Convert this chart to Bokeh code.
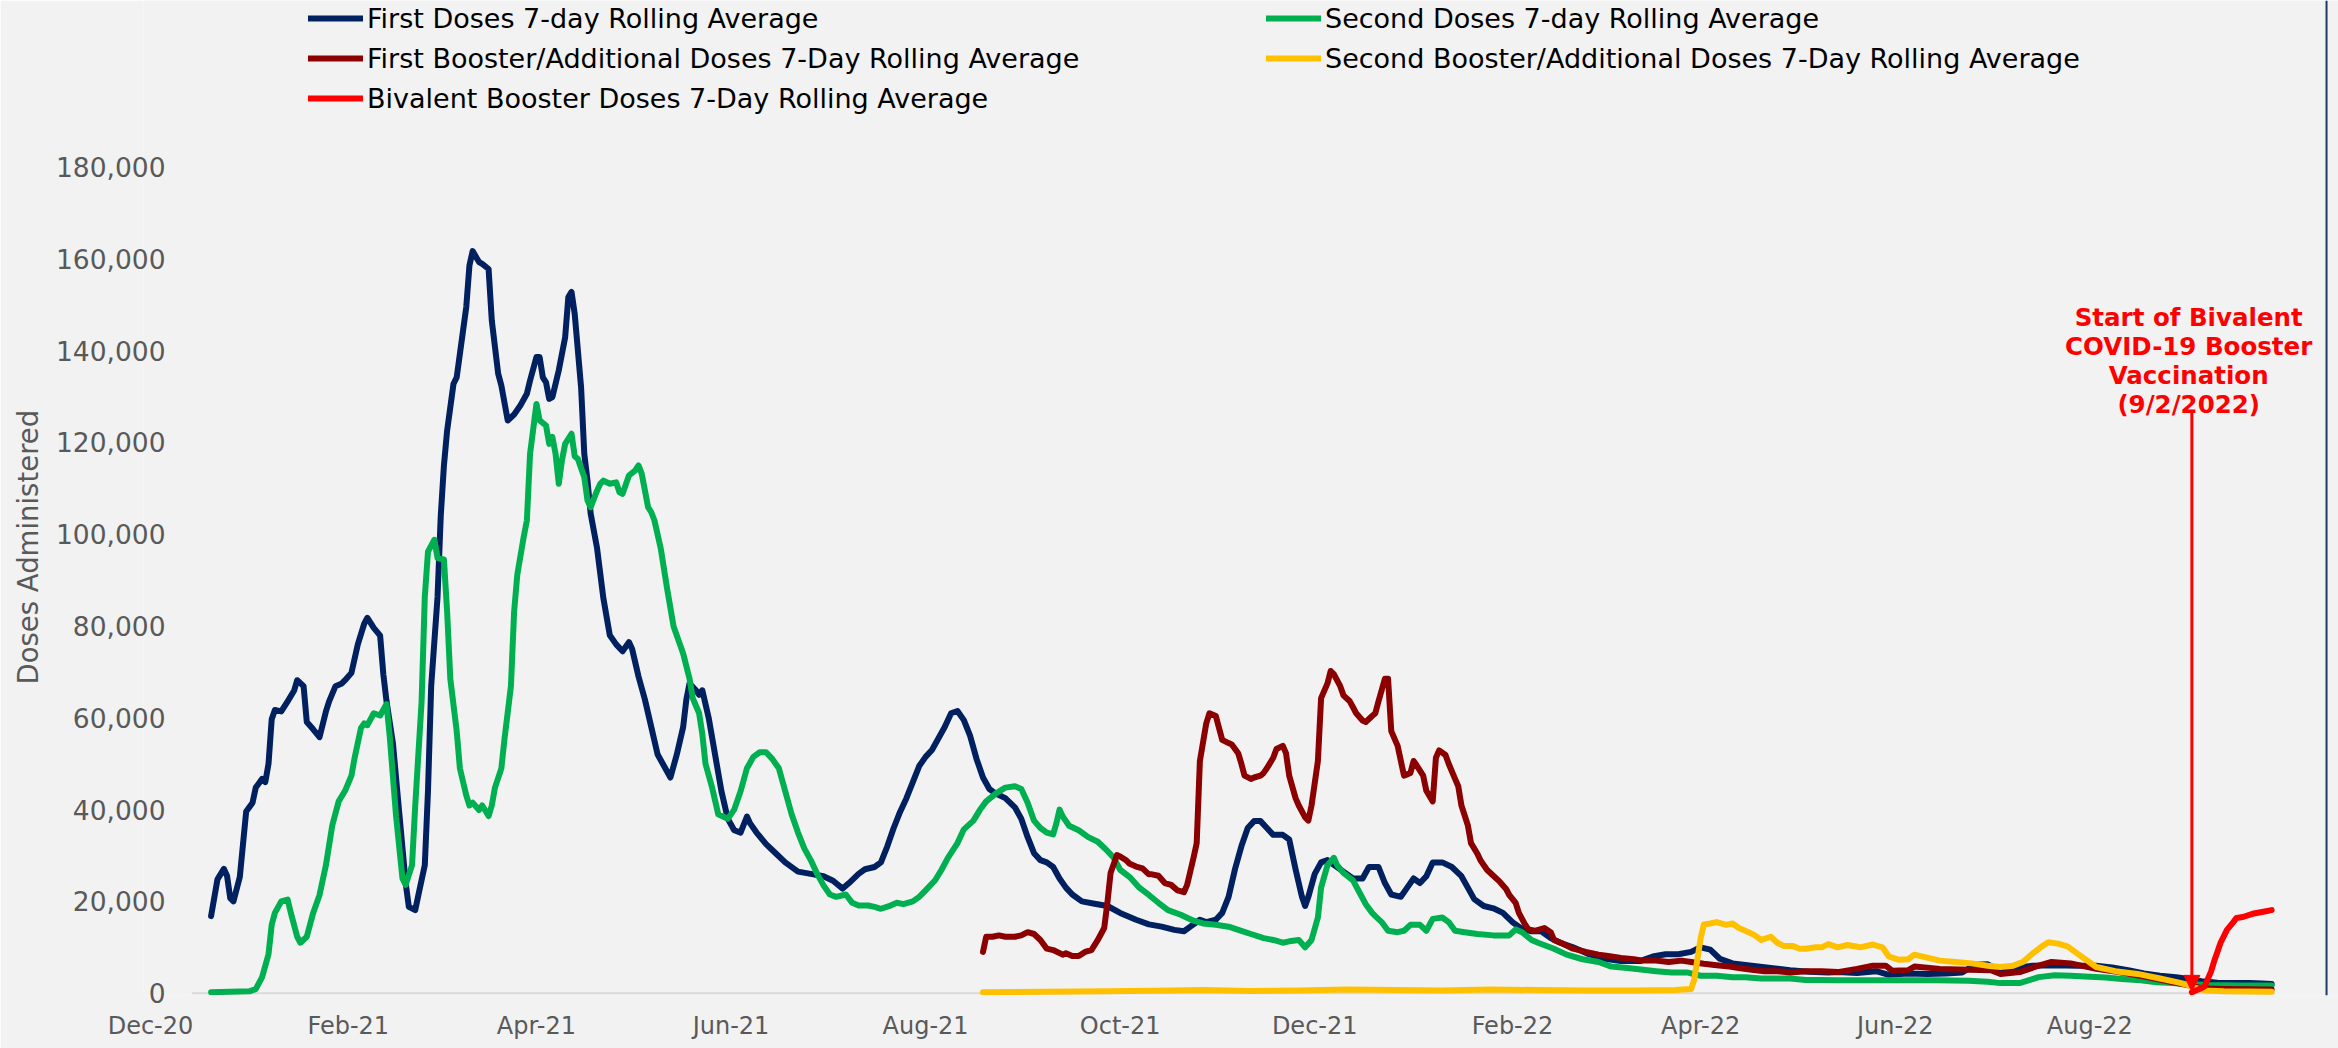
import pandas as pd
from bokeh.plotting import figure
from bokeh.models import (Legend, LegendItem, Label, Arrow, NormalHead, FixedTicker, Title, Span,
                          NumeralTickFormatter, DatetimeTickFormatter)
from bokeh.embed import file_html
from bokeh.resources import INLINE

# ---------------- data (7-day rolling averages) ----------------
first_dates = [
    "2020-12-20", "2020-12-22", "2020-12-24", "2020-12-25", "2020-12-26", "2020-12-27", "2020-12-29", "2020-12-31",
    "2021-01-02", "2021-01-03", "2021-01-05", "2021-01-06", "2021-01-07", "2021-01-08", "2021-01-09", "2021-01-11",
    "2021-01-13", "2021-01-15", "2021-01-16", "2021-01-18", "2021-01-19", "2021-01-21", "2021-01-23", "2021-01-25",
    "2021-01-26", "2021-01-28", "2021-01-30", "2021-01-31", "2021-02-02", "2021-02-04", "2021-02-06", "2021-02-07",
    "2021-02-09", "2021-02-11", "2021-02-12", "2021-02-13", "2021-02-15", "2021-02-17", "2021-02-19", "2021-02-20",
    "2021-02-22", "2021-02-23", "2021-02-25", "2021-02-26", "2021-02-27", "2021-03-01", "2021-03-02", "2021-03-03",
    "2021-03-04", "2021-03-06", "2021-03-07", "2021-03-09", "2021-03-10", "2021-03-11", "2021-03-12", "2021-03-14",
    "2021-03-15", "2021-03-17", "2021-03-18", "2021-03-20", "2021-03-21", "2021-03-23", "2021-03-25", "2021-03-27",
    "2021-03-29", "2021-03-30", "2021-04-01", "2021-04-02", "2021-04-03", "2021-04-04", "2021-04-05", "2021-04-06",
    "2021-04-07", "2021-04-08", "2021-04-10", "2021-04-11", "2021-04-12", "2021-04-13", "2021-04-15", "2021-04-16",
    "2021-04-17", "2021-04-18", "2021-04-20", "2021-04-22", "2021-04-24", "2021-04-26", "2021-04-28", "2021-04-30",
    "2021-05-01", "2021-05-03", "2021-05-05", "2021-05-07", "2021-05-09", "2021-05-11", "2021-05-13", "2021-05-15",
    "2021-05-17", "2021-05-18", "2021-05-19", "2021-05-21", "2021-05-22", "2021-05-23", "2021-05-25", "2021-05-27",
    "2021-05-29", "2021-05-31", "2021-06-02", "2021-06-04", "2021-06-06", "2021-06-07", "2021-06-09", "2021-06-12",
    "2021-06-15", "2021-06-18", "2021-06-22", "2021-06-26", "2021-06-30", "2021-07-03", "2021-07-06", "2021-07-08",
    "2021-07-11", "2021-07-13", "2021-07-16", "2021-07-18", "2021-07-20", "2021-07-22", "2021-07-24", "2021-07-26",
    "2021-07-28", "2021-07-30", "2021-08-01", "2021-08-03", "2021-08-05", "2021-08-07", "2021-08-09", "2021-08-11",
    "2021-08-13", "2021-08-15", "2021-08-17", "2021-08-19", "2021-08-21", "2021-08-23", "2021-08-26", "2021-08-29",
    "2021-08-31", "2021-09-02", "2021-09-04", "2021-09-06", "2021-09-08", "2021-09-10", "2021-09-12", "2021-09-14",
    "2021-09-16", "2021-09-19", "2021-09-23", "2021-09-27", "2021-10-01", "2021-10-06", "2021-10-10", "2021-10-14",
    "2021-10-18", "2021-10-21", "2021-10-23", "2021-10-26", "2021-10-28", "2021-10-31", "2021-11-02", "2021-11-04",
    "2021-11-06", "2021-11-08", "2021-11-10", "2021-11-12", "2021-11-14", "2021-11-16", "2021-11-18", "2021-11-21",
    "2021-11-23", "2021-11-25", "2021-11-27", "2021-11-28", "2021-11-29", "2021-12-01", "2021-12-03", "2021-12-05",
    "2021-12-07", "2021-12-10", "2021-12-13", "2021-12-16", "2021-12-18", "2021-12-21", "2021-12-23", "2021-12-25",
    "2021-12-28", "2021-12-30", "2022-01-01", "2022-01-03", "2022-01-05", "2022-01-07", "2022-01-10", "2022-01-13",
    "2022-01-16", "2022-01-18", "2022-01-20", "2022-01-23", "2022-01-26", "2022-01-29", "2022-02-01", "2022-02-04",
    "2022-02-07", "2022-02-10", "2022-02-13", "2022-02-16", "2022-02-20", "2022-02-25", "2022-03-02", "2022-03-07",
    "2022-03-13", "2022-03-17", "2022-03-21", "2022-03-25", "2022-03-29", "2022-04-01", "2022-04-04", "2022-04-07",
    "2022-04-11", "2022-04-17", "2022-04-23", "2022-04-29", "2022-05-05", "2022-05-11", "2022-05-14", "2022-05-20",
    "2022-05-26", "2022-05-30", "2022-06-05", "2022-06-11", "2022-06-17", "2022-06-22", "2022-06-26", "2022-06-30",
    "2022-07-04", "2022-07-09", "2022-07-14", "2022-07-21", "2022-07-28", "2022-08-03", "2022-08-08", "2022-08-13",
    "2022-08-18", "2022-08-23", "2022-08-28", "2022-09-01", "2022-09-05", "2022-09-10", "2022-09-15", "2022-09-20",
    "2022-09-24", "2022-09-27",
]
first_doses = [
    16800, 24800, 27100, 25600, 20700, 20000, 25300, 39600,
    41500, 44800, 46700, 46000, 50000, 59700, 61700, 61400,
    63600, 65900, 68200, 66900, 59100, 57500, 55800, 61400,
    63600, 66900, 67500, 68200, 69800, 76000, 80500, 81800,
    79600, 77900, 69500, 63600, 54500, 39200, 24000, 18800,
    18100, 21400, 27900, 44100, 66900, 86400, 104000, 115000,
    122600, 132800, 134200, 144400, 149500, 158600, 161700, 159300,
    158900, 157800, 146600, 135000, 132400, 124800, 126100, 128100,
    130600, 133500, 138600, 138600, 134200, 133100, 129500, 129900,
    132800, 135700, 142900, 151700, 152800, 148000, 132000, 117500,
    111700, 104500, 97000, 86000, 78000, 76000, 74500, 76500,
    75000, 69000, 64000, 58000, 52000, 49500, 47000, 52000,
    58000, 64000, 67500, 66000, 65000, 66000, 60000, 52000,
    44000, 38000, 35500, 35000, 38500, 37000, 35000, 32500,
    30500, 28500, 26500, 26000, 25500, 24500, 22800, 24000,
    26000, 27000, 27500, 28500, 32000, 36000, 39500, 42500,
    46000, 49500, 51500, 53000, 55500, 58000, 61000, 61500,
    59500, 56000, 51000, 47000, 44500, 43500, 42500, 40500,
    38000, 34000, 30500, 29000, 28500, 27500, 25000, 23000,
    21500, 20000, 19500, 19000, 17500, 16000, 15000, 14500,
    13800, 13500, 14500, 16000, 15500, 16000, 17500, 21000,
    27000, 32000, 36000, 37500, 37500, 36000, 34500, 34500,
    33500, 27000, 21000, 19000, 21000, 26000, 28500, 29000,
    28000, 26500, 25000, 25000, 27500, 27500, 24000, 21500,
    21000, 23000, 25000, 24000, 25500, 28500, 28500, 27500,
    25500, 23000, 20500, 19000, 18500, 17500, 15500, 14000,
    13500, 13500, 12000, 11000, 10000, 8500, 7500, 7000,
    7000, 8000, 8500, 8500, 9000, 10000, 9500, 7500,
    6500, 6000, 5500, 5000, 4700, 4500, 4600, 4400,
    4800, 4000, 4300, 4200, 4300, 4500, 6200, 6300,
    4800, 5500, 6000, 6100, 6000, 6000, 5600, 5000,
    4300, 3800, 3500, 3100, 2600, 2300, 2200, 2200,
    2100, 2000,
]

second_dates = [
    "2020-12-20", "2020-12-26", "2021-01-01", "2021-01-03", "2021-01-05", "2021-01-07", "2021-01-08", "2021-01-09",
    "2021-01-11", "2021-01-13", "2021-01-14", "2021-01-16", "2021-01-17", "2021-01-19", "2021-01-21", "2021-01-23",
    "2021-01-25", "2021-01-27", "2021-01-29", "2021-01-31", "2021-02-02", "2021-02-03", "2021-02-05", "2021-02-06",
    "2021-02-07", "2021-02-09", "2021-02-11", "2021-02-13", "2021-02-14", "2021-02-16", "2021-02-18", "2021-02-19",
    "2021-02-21", "2021-02-22", "2021-02-24", "2021-02-25", "2021-02-26", "2021-02-28", "2021-03-01", "2021-03-03",
    "2021-03-04", "2021-03-05", "2021-03-07", "2021-03-08", "2021-03-10", "2021-03-11", "2021-03-12", "2021-03-14",
    "2021-03-15", "2021-03-17", "2021-03-18", "2021-03-19", "2021-03-21", "2021-03-22", "2021-03-24", "2021-03-25",
    "2021-03-26", "2021-03-28", "2021-03-29", "2021-03-30", "2021-04-01", "2021-04-02", "2021-04-04", "2021-04-05",
    "2021-04-06", "2021-04-07", "2021-04-08", "2021-04-09", "2021-04-10", "2021-04-12", "2021-04-13", "2021-04-14",
    "2021-04-16", "2021-04-17", "2021-04-18", "2021-04-20", "2021-04-21", "2021-04-22", "2021-04-24", "2021-04-26",
    "2021-04-27", "2021-04-28", "2021-04-30", "2021-05-02", "2021-05-03", "2021-05-04", "2021-05-06", "2021-05-07",
    "2021-05-08", "2021-05-10", "2021-05-12", "2021-05-14", "2021-05-16", "2021-05-17", "2021-05-19", "2021-05-20",
    "2021-05-22", "2021-05-23", "2021-05-24", "2021-05-26", "2021-05-28", "2021-05-31", "2021-06-02", "2021-06-04",
    "2021-06-06", "2021-06-08", "2021-06-10", "2021-06-12", "2021-06-14", "2021-06-16", "2021-06-18", "2021-06-20",
    "2021-06-22", "2021-06-24", "2021-06-26", "2021-06-28", "2021-06-30", "2021-07-02", "2021-07-04",
    "2021-07-07", "2021-07-09", "2021-07-11", "2021-07-14", "2021-07-16",
    "2021-07-18", "2021-07-21", "2021-07-23", "2021-07-25", "2021-07-28", "2021-07-30", "2021-08-01", "2021-08-04",
    "2021-08-06", "2021-08-08", "2021-08-11", "2021-08-13", "2021-08-16", "2021-08-18", "2021-08-20", "2021-08-23",
    "2021-08-26", "2021-08-29", "2021-08-31", "2021-09-02", "2021-09-04", "2021-09-06", "2021-09-08", "2021-09-10",
    "2021-09-11", "2021-09-12", "2021-09-13", "2021-09-15", "2021-09-18", "2021-09-21", "2021-09-24", "2021-09-27",
    "2021-09-29", "2021-10-01", "2021-10-04", "2021-10-07", "2021-10-10", "2021-10-13", "2021-10-16", "2021-10-20",
    "2021-10-24", "2021-10-27", "2021-10-31", "2021-11-04", "2021-11-08", "2021-11-11", "2021-11-15", "2021-11-18",
    "2021-11-21", "2021-11-23", "2021-11-26", "2021-11-28", "2021-11-30", "2021-12-02", "2021-12-03", "2021-12-05",
    "2021-12-07", "2021-12-08", "2021-12-10", "2021-12-13", "2021-12-15", "2021-12-17", "2021-12-19", "2021-12-20",
    "2021-12-22", "2021-12-24", "2021-12-27", "2021-12-29", "2021-12-31", "2022-01-03", "2022-01-05", "2022-01-07",
    "2022-01-10", "2022-01-12", "2022-01-14", "2022-01-17", "2022-01-21", "2022-01-26", "2022-01-31", "2022-02-02",
    "2022-02-04", "2022-02-07", "2022-02-09", "2022-02-14", "2022-02-18", "2022-02-23", "2022-02-28", "2022-03-04",
    "2022-03-09", "2022-03-14", "2022-03-18", "2022-03-23", "2022-03-28", "2022-04-01", "2022-04-06", "2022-04-11",
    "2022-04-15", "2022-04-20", "2022-04-25", "2022-04-29", "2022-05-04", "2022-05-09", "2022-05-14", "2022-05-25",
    "2022-06-04", "2022-06-14", "2022-06-24", "2022-06-30", "2022-07-04", "2022-07-10", "2022-07-16", "2022-07-21",
    "2022-07-26", "2022-08-01", "2022-08-06", "2022-08-11", "2022-08-17", "2022-08-22", "2022-08-27", "2022-09-01",
    "2022-09-07", "2022-09-17", "2022-09-27",
]
second_doses = [
    200, 300, 400, 900, 3500, 8500, 14900, 17500,
    20000, 20400, 17500, 12300, 11000, 12300, 17500, 21400,
    27900, 36600, 41800, 44100, 47400, 51300, 57800, 58800,
    58400, 61000, 60500, 63000, 56000, 38500, 25000, 23600,
    27900, 40900, 63600, 86400, 96200, 98800, 94800, 94500,
    83100, 68500, 57100, 49000, 43100, 40900, 41500, 39900,
    40900, 38600, 40900, 44800, 49000, 55500, 66900, 83100,
    91200, 99400, 103000, 117500, 128400, 124800, 123700, 119700,
    121200, 117500, 111000, 116100, 119700, 121900, 117000, 116400,
    112400, 107400, 105900, 109500, 111000, 111700, 111000, 111300,
    109200, 108800, 112800, 113900, 115000, 113200, 105900, 104800,
    103000, 96800, 88000, 79900, 76000, 74000, 68500, 64300,
    61000, 56500, 50000, 45000, 39000, 38000, 40000, 44000,
    49000, 51500, 52500, 52500, 51000, 49000, 44000, 39000,
    35000, 31500, 29000, 26000, 23500, 21500, 21000,
    21500, 19700, 19100, 19100, 18800,
    18400, 19100, 19700, 19400, 20000, 21000, 22400, 24600,
    26900, 29500, 32700, 35700, 37600, 39900, 41800, 43500,
    44800, 45100, 44500, 41500, 37600, 36000, 35000, 34600,
    37000, 40000, 38500, 36500, 35500, 34000, 33000, 31000,
    29500, 26900, 25300, 23000, 21400, 19700, 18100, 17100,
    15800, 15200, 14900, 14500, 13600, 12900, 12000, 11600,
    11000, 11300, 11600, 10000, 11600, 16500, 23000, 27900,
    29500, 27900, 26200, 24600, 22000, 19400, 17500, 16800,
    15500, 13600, 13300, 13600, 14900, 14900, 13600, 16200,
    16500, 15500, 13600, 13300, 12900, 12600, 12600, 13900,
    13300, 11600, 11000, 9700, 8400, 7400, 6800, 5800,
    5500, 5100, 4800, 4500, 4500, 3800, 3800, 3500,
    3500, 3200, 3200, 3200, 2900, 2900, 2800, 2800,
    2800, 2800, 2700, 2500, 2200, 2200, 3500, 3900,
    3800, 3600, 3400, 3100, 2800, 2400, 2200, 2000,
    1800, 1700, 1700,
]

booster1_dates = [
    "2021-08-19", "2021-08-20", "2021-08-22", "2021-08-24", "2021-08-26", "2021-08-29", "2021-08-31", "2021-09-02",
    "2021-09-04", "2021-09-06", "2021-09-08", "2021-09-10", "2021-09-13", "2021-09-14", "2021-09-16", "2021-09-18",
    "2021-09-20", "2021-09-22", "2021-09-24", "2021-09-26", "2021-09-27", "2021-09-28", "2021-09-30", "2021-10-01",
    "2021-10-03", "2021-10-04", "2021-10-06", "2021-10-08", "2021-10-10", "2021-10-11", "2021-10-13", "2021-10-15",
    "2021-10-17", "2021-10-19", "2021-10-21", "2021-10-22", "2021-10-24", "2021-10-25", "2021-10-26", "2021-10-28",
    "2021-10-29", "2021-10-31", "2021-11-01", "2021-11-02", "2021-11-04", "2021-11-05", "2021-11-07", "2021-11-08",
    "2021-11-09", "2021-11-11", "2021-11-12", "2021-11-14", "2021-11-15", "2021-11-16", "2021-11-18", "2021-11-19",
    "2021-11-21", "2021-11-22", "2021-11-23", "2021-11-25", "2021-11-26", "2021-11-28", "2021-11-29", "2021-11-30",
    "2021-12-02", "2021-12-03", "2021-12-05", "2021-12-06", "2021-12-07", "2021-12-09", "2021-12-10", "2021-12-12",
    "2021-12-13", "2021-12-14", "2021-12-16", "2021-12-17", "2021-12-19", "2021-12-20", "2021-12-21", "2021-12-23",
    "2021-12-24", "2021-12-25", "2021-12-27", "2021-12-28", "2021-12-29", "2021-12-31", "2022-01-01", "2022-01-02",
    "2022-01-04", "2022-01-05", "2022-01-07", "2022-01-08", "2022-01-09", "2022-01-11", "2022-01-12", "2022-01-14",
    "2022-01-15", "2022-01-16", "2022-01-18", "2022-01-19", "2022-01-21", "2022-01-22", "2022-01-24", "2022-01-26",
    "2022-01-28", "2022-01-30", "2022-01-31", "2022-02-02", "2022-02-03", "2022-02-05", "2022-02-06", "2022-02-08",
    "2022-02-11", "2022-02-13", "2022-02-14", "2022-02-17", "2022-02-20", "2022-02-24", "2022-02-28", "2022-03-03",
    "2022-03-07", "2022-03-11", "2022-03-14", "2022-03-18", "2022-03-22", "2022-03-26", "2022-03-29", "2022-04-02",
    "2022-04-06", "2022-04-10", "2022-04-13", "2022-04-17", "2022-04-21", "2022-04-25", "2022-04-29", "2022-05-04",
    "2022-05-09", "2022-05-14", "2022-05-20", "2022-05-25", "2022-05-29", "2022-05-31", "2022-06-05", "2022-06-07",
    "2022-06-15", "2022-06-24", "2022-07-01", "2022-07-04", "2022-07-10", "2022-07-16", "2022-07-20", "2022-07-26",
    "2022-08-03", "2022-08-10", "2022-08-16", "2022-08-22", "2022-08-27", "2022-09-01", "2022-09-06", "2022-09-12",
    "2022-09-27",
]
booster1_doses = [
    9000, 12300, 12300, 12600, 12300, 12300, 12600, 13300,
    12900, 11600, 9700, 9400, 8400, 8700, 8100, 8100,
    9000, 9400, 11600, 14200, 19700, 26200, 30100, 29800,
    28900, 28200, 27600, 27200, 25900, 25900, 25600, 24000,
    23600, 22400, 22000, 23600, 29500, 32700, 50600, 58800,
    61000, 60400, 57800, 55200, 54500, 54200, 52300, 50000,
    47400, 46700, 47000, 47400, 48000, 49000, 51300, 53200,
    53900, 52300, 47400, 42500, 40900, 38300, 37600, 40900,
    50600, 64300, 67500, 70200, 69500, 66900, 64900, 63600,
    62300, 61000, 59400, 59100, 60400, 61000, 63600, 68500,
    68500, 57100, 53900, 50600, 47400, 48000, 50600, 49600,
    47400, 44100, 41800, 51300, 52900, 51900, 50000, 46700,
    45100, 40900, 36600, 32700, 30400, 28900, 26900, 25600,
    24300, 22700, 21400, 19700, 17500, 14900, 13900, 13600,
    14200, 13300, 11600, 10700, 9700, 9000, 8400, 8100,
    7700, 7400, 7100, 7100, 6800, 7100, 6800, 6400,
    6100, 5800, 5500, 5100, 4800, 4800, 4500, 4800,
    4800, 4600, 5300, 6000, 6000, 4900, 5000, 5800,
    5300, 5100, 5000, 4200, 4600, 6000, 6800, 6500,
    5300, 4600, 3900, 3100, 2400, 1700, 1000, 900,
    800,
]

booster2_dates = [
    "2021-08-19", "2021-09-07", "2021-09-27", "2021-10-17", "2021-10-27", "2021-11-11", "2021-11-26", "2021-12-11",
    "2021-12-26", "2022-01-10", "2022-01-25", "2022-02-09", "2022-02-24", "2022-03-11", "2022-03-24", "2022-03-29",
    "2022-03-30", "2022-04-01", "2022-04-02", "2022-04-04", "2022-04-06", "2022-04-09", "2022-04-11", "2022-04-13",
    "2022-04-16", "2022-04-18", "2022-04-20", "2022-04-23", "2022-04-25", "2022-04-27", "2022-04-30", "2022-05-02",
    "2022-05-04", "2022-05-07", "2022-05-09", "2022-05-11", "2022-05-14", "2022-05-17", "2022-05-21", "2022-05-25",
    "2022-05-28", "2022-05-30", "2022-06-02", "2022-06-05", "2022-06-07", "2022-06-10", "2022-06-15", "2022-06-20",
    "2022-06-25", "2022-06-30", "2022-07-04", "2022-07-08", "2022-07-11", "2022-07-14", "2022-07-17", "2022-07-19",
    "2022-07-22", "2022-07-25", "2022-07-29", "2022-08-03", "2022-08-09", "2022-08-16", "2022-08-23", "2022-08-29",
    "2022-09-01", "2022-09-03", "2022-09-06", "2022-09-12", "2022-09-27",
]
booster2_doses = [
    200, 300, 400, 600, 700, 500, 600, 800,
    700, 600, 800, 700, 600, 600, 700, 900,
    3000, 12000, 15000, 15200, 15500, 14900, 15200, 14200,
    13300, 12600, 11600, 12300, 11000, 10300, 10300, 9700,
    9700, 10000, 10000, 10700, 10000, 10500, 10000, 10600,
    10000, 8000, 7300, 7400, 8400, 7900, 7100, 6800,
    6500, 6000, 5700, 6000, 6800, 8600, 10200, 11100,
    10800, 10200, 8200, 5700, 4800, 4200, 3200, 2300,
    1700, 1200, 600, 400, 300,
]

bivalent_dates = [
    "2022-09-02", "2022-09-04", "2022-09-06", "2022-09-08", "2022-09-09", "2022-09-10", "2022-09-11", "2022-09-13",
    "2022-09-15", "2022-09-16", "2022-09-18", "2022-09-21", "2022-09-24", "2022-09-27",
]
bivalent_doses = [
    200, 800, 1500, 4700, 7000, 9000, 11000, 13800,
    15500, 16400, 16600, 17300, 17700, 18100,
]

series_names = [
    "First Doses 7-day Rolling Average",
    "Second Doses 7-day Rolling Average",
    "First Booster/Additional Doses 7-Day Rolling Average",
    "Second Booster/Additional Doses 7-Day Rolling Average",
    "Bivalent Booster Doses 7-Day Rolling Average",
]
series_colors = ["#002060", "#00B050", "#8B0000", "#FFC000", "#FF0000"]

x_tick_dates = ["2020-12-01", "2021-02-01", "2021-04-01", "2021-06-01", "2021-08-01", "2021-10-01",
                "2021-12-01", "2022-02-01", "2022-04-01", "2022-06-01", "2022-08-01"]
y_ticks = [0, 20000, 40000, 60000, 80000, 100000, 120000, 140000, 160000, 180000]

axis_start, axis_end = "2020-12-14", "2022-09-28"      # extent of the original plot area
chart_border = "2022-10-14 05:17"                       # right edge of the original chart frame
bivalent_start = "2022-09-02"
annotation_text = "Start of Bivalent\nCOVID-19 Booster\nVaccination\n(9/2/2022)"


def ms(s):
    return pd.Timestamp(s).value / 1e6


FONT = "DejaVu Sans"
GREY = "#595959"

p = figure(width=2338, height=1048, x_axis_type="datetime",
           x_range=(ms("2020-11-28 19:24"), ms("2022-10-17 23:17")),
           y_range=(-500, 216300),
           output_backend="svg", toolbar_location=None,
           background_fill_color="#f2f2f2", border_fill_color="#f2f2f2",
           outline_line_color=None,
           min_border_left=140, min_border_right=0, min_border_top=0, min_border_bottom=53)

p.xgrid.visible = False
p.ygrid.visible = False

# zero baseline of the plot area
p.line(x=[ms(axis_start), ms(axis_end)], y=[0, 0], line_color="#d9d9d9", line_width=2)

# series lines
all_series = [
    (first_dates, first_doses),
    (second_dates, second_doses),
    (booster1_dates, booster1_doses),
    (booster2_dates, booster2_doses),
    (bivalent_dates, bivalent_doses),
]
renderers = []
for (d, v), c in zip(all_series, series_colors):
    r = p.line(x=pd.to_datetime(d), y=v, line_color=c, line_width=6,
               line_cap="round", line_join="round")
    renderers.append(r)

# chart frame edge
p.add_layout(Span(location=ms(chart_border), dimension="height", line_color="#1F3864", line_width=2))

# x axis
xa = p.xaxis[0]
xa.ticker = FixedTicker(ticks=[ms(d) for d in x_tick_dates])
xa.formatter = DatetimeTickFormatter(days="%b-%y", months="%b-%y", years="%b-%y")
xa.axis_line_color = None
xa.major_tick_line_color = None
xa.minor_tick_line_color = None
xa.major_tick_out = 0
xa.major_label_text_font = FONT
xa.major_label_text_font_size = "24px"
xa.major_label_text_color = GREY
xa.major_label_standoff = 16

# y axis
ya = p.yaxis[0]
ya.ticker = FixedTicker(ticks=y_ticks)
ya.formatter = NumeralTickFormatter(format="0,0")
ya.axis_line_color = None
ya.major_tick_line_color = None
ya.minor_tick_line_color = None
ya.major_tick_out = 0
ya.major_label_text_font = FONT
ya.major_label_text_font_size = "26.5px"
ya.major_label_text_color = GREY
ya.major_label_standoff = -22

# y axis title (placed beside the value range, as in the original)
p.add_layout(Title(text="Doses Administered", align="left", offset=311,
                   text_font=FONT, text_font_size="27.5px", text_font_style="normal",
                   text_color=GREY, standoff=18), "left")

# legend: two columns, row-major like the original
common = dict(label_text_font=FONT, label_text_font_size="27px", label_text_color="#000000",
              glyph_width=55, glyph_height=32, label_height=32, label_standoff=4, spacing=8,
              padding=0, margin=0, border_line_color=None, background_fill_alpha=0)
leg1 = Legend(items=[LegendItem(label=series_names[i], renderers=[renderers[i]]) for i in (0, 2, 4)],
              location=(165, 881), **common)
leg2 = Legend(items=[LegendItem(label=series_names[i], renderers=[renderers[i]]) for i in (1, 3)],
              location=(1123, 921), **common)
p.add_layout(leg1)
p.add_layout(leg2)

# annotation
p.add_layout(Label(x=ms("2022-09-01"), y=150300, text=annotation_text, text_align="center",
                   text_baseline="top", text_font=FONT, text_font_style="bold",
                   text_font_size="24.5px", text_color="#FF0000", text_line_height=1.0))
p.add_layout(Arrow(x_start=ms(bivalent_start), y_start=126700, x_end=ms(bivalent_start), y_end=400,
                   line_color="#FF0000", line_width=3,
                   end=NormalHead(size=16, fill_color="#FF0000", line_color="#FF0000")))

open("out.html", "w").write(file_html(p, INLINE))
